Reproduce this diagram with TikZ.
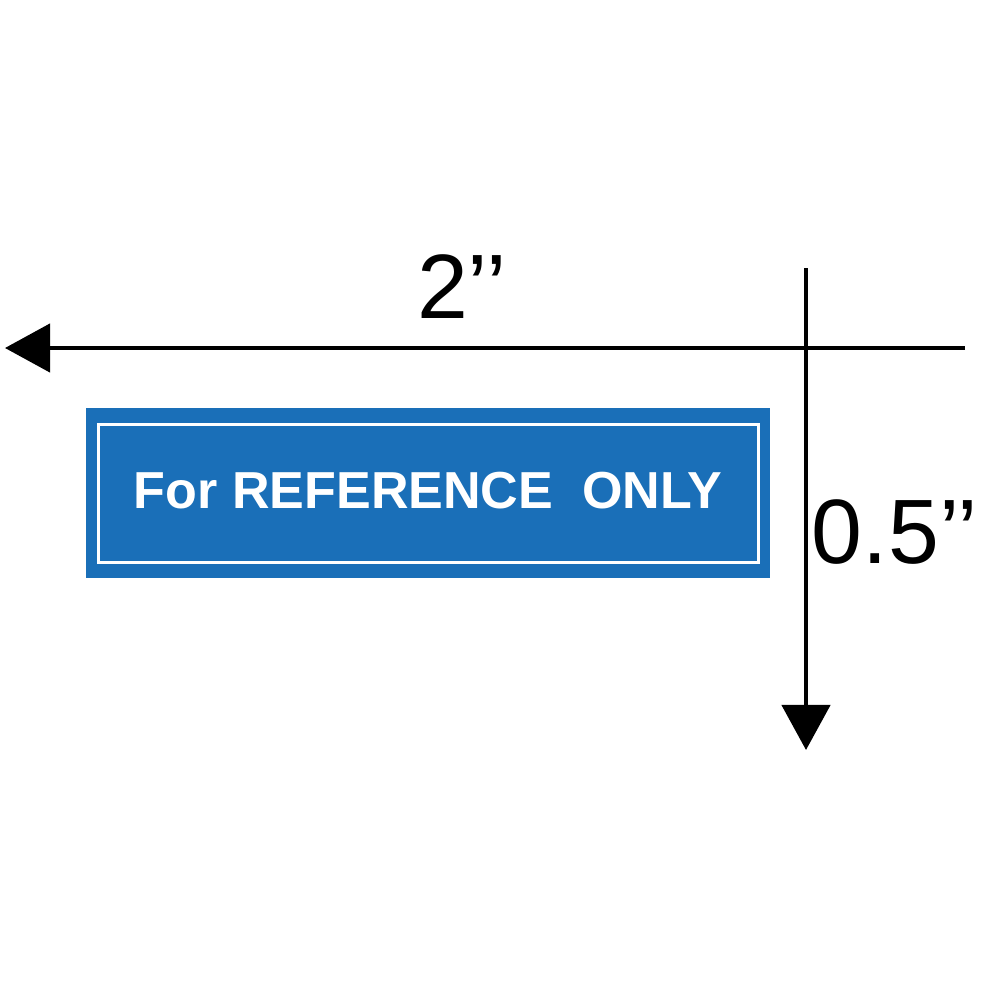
\documentclass[tikz,border=0pt]{standalone}
\usepackage{fontspec}
\setmainfont{Liberation Sans}
\usetikzlibrary{arrows.meta}
\definecolor{signblue}{HTML}{1A6FB8}
\tikzset{dim/.style={line width=0.045cm,-{Triangle[length=0.45cm,width=0.48cm]}}}
\begin{document}
\begin{tikzpicture}[x=0.01cm,y=-0.01cm]
\useasboundingbox (0,0) rectangle (1000,1000);
\fill[signblue] (86,408) rectangle (770,578);
\draw[white,line width=0.03cm] (98,424) rectangle (758,562);
\node[text=white,font=\bfseries\fontsize{14.8}{16}\selectfont] (t) at (428,491) {For REFERENCE\ \ ONLY};
\coordinate (hs) at (965,348);
\coordinate (he) at (5,348);
\coordinate (vs) at (806,268);
\coordinate (ve) at (806,750);
\draw[dim] (hs) -- (he);
\draw[dim] (vs) -- (ve);
\node[font=\fontsize{26}{30}\selectfont] (w) at (462,287) {2’’};
\node[font=\fontsize{26}{30}\selectfont] (h) at (895,532) {0.5’’};
\end{tikzpicture}
\end{document}
